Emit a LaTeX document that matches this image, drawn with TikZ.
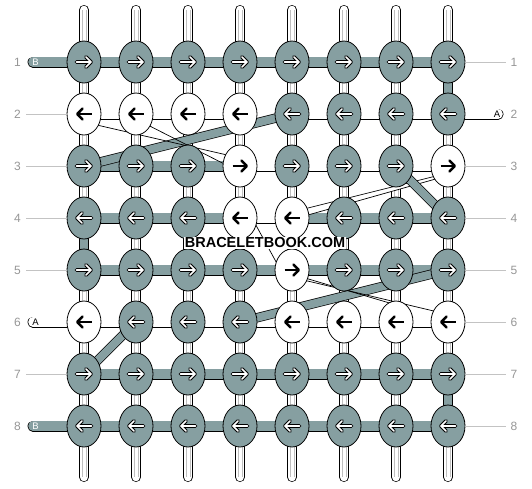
\documentclass[tikz,border=0pt]{standalone}
\usepackage{fontspec}
\setmainfont{Liberation Sans}
\usetikzlibrary{shapes.geometric}
\definecolor{kg}{RGB}{134,159,161}
\definecolor{lbl}{RGB}{150,150,150}
\definecolor{lln}{RGB}{195,195,195}
\definecolor{inl}{RGB}{190,190,190}
\newcommand\knotarrowG[1]{%
 \begin{scope}[shift={(path picture bounding box.center)}]
 \draw[black,line width=3.8pt,line cap=round,line join=round] ({-7.5*#1},0)--({7*#1},0) ({2*#1},-5)--({7*#1},0)--({2*#1},5);
 \draw[white,line width=1.6pt,line cap=round,line join=round] ({-7.5*#1},0)--({7*#1},0) ({2*#1},-5)--({7*#1},0)--({2*#1},5);
 \end{scope}}
\newcommand\knotarrowW[1]{%
 \begin{scope}[shift={(path picture bounding box.center)}]
 \draw[black,line width=2.6pt,line cap=butt,line join=miter] ({-7.5*#1},0)--({6.5*#1},0);
 \draw[black,line width=2.6pt,line cap=round,line join=round] ({1.5*#1},-5.4)--({6.8*#1},0)--({1.5*#1},5.4);
 \end{scope}}
\begin{document}
\begin{tikzpicture}[x=1pt,y=-1pt,
 knot/.style={ellipse,draw=black,line width=0.8pt,minimum width=34pt,minimum height=42pt,inner sep=0pt},
 GR/.style={knot,fill=kg,path picture={\knotarrowG{1}}},
 GL/.style={knot,fill=kg,path picture={\knotarrowG{-1}}},
 WR/.style={knot,fill=white,path picture={\knotarrowW{1}}},
 WL/.style={knot,fill=white,path picture={\knotarrowW{-1}}},
 vth/.style={double=white,double distance=8.6pt,line width=0.7pt,line cap=round},
 vg/.style={double=kg,double distance=8.6pt,line width=0.7pt},
 hbG/.style={double=kg,double distance=9.6pt,line width=0.7pt},
 hbW/.style={double=white,double distance=9.6pt,line width=0.7pt},
 dg/.style={double=kg,double distance=8pt,line width=0.7pt},
 thin/.style={draw=black,line width=0.7pt},
 lab/.style={text=lbl,font=\fontsize{12}{12}\selectfont,inner sep=0pt},
 lline/.style={draw=lln,line width=0.9pt},
 stublab/.style={font=\fontsize{9.5}{9.5}\selectfont,inner sep=0pt}
]
\useasboundingbox (0,0) rectangle (532,488);
% grid coordinates
\foreach \i in {1,...,8}{
 \foreach \j in {1,...,8}{
  \coordinate (c-\i-\j) at ({84+52*(\i-1)},{62+52*(\j-1)});
 }
 \coordinate (t-\i) at ({84+52*(\i-1)},10);
 \coordinate (b-\i) at ({84+52*(\i-1)},477);
}
% vertical threads
\foreach \i in {1,...,8}{
 \draw[vth] (t-\i) -- (b-\i);
 \draw[inl,line width=0.5pt] ([xshift=-2pt]t-\i) -- ([xshift=-2pt]b-\i);
 \draw[inl,line width=0.5pt] ([xshift=2pt]t-\i) -- ([xshift=2pt]b-\i);
}
\draw[vg] (c-8-1) -- (c-8-2);
\draw[vg] (c-1-4) -- (c-1-5);
\draw[vg] (c-8-7) -- (c-8-8);
% horizontal bars
\foreach \j/\lst in {1/{G,G,G,G,G,G,G},2/{W,W,W,W,W,W,W},3/{G,G,G,W,W,W,W},4/{G,G,G,W,G,G,G},5/{G,G,G,G,G,G,G},6/{W,W,W,W,W,W,W},7/{G,G,G,G,G,G,G},8/{G,G,G,G,G,G,G}}{
 \foreach \s [count=\i] in \lst {
  \pgfmathtruncatemacro\ii{\i+1}
  \draw[hb\s] (c-\i-\j) -- (c-\ii-\j);
 }
}
% stubs
\coordinate (sl-1) at (33,62);
\coordinate (sl-6) at (33,322);
\coordinate (sl-8) at (33,426);
\coordinate (sr-2) at (498,114);
\draw[hbG,line cap=round] (sl-1) -- (c-1-1);
\draw[hbW,line cap=round] (sl-6) -- (c-1-6);
\draw[hbG,line cap=round] (sl-8) -- (c-1-8);
\draw[hbW,line cap=round] (sr-2) -- (c-8-2);
\node[stublab,text=white] (tb-1) at (35.5,62.5) {B};
\node[stublab,text=black] (ta-6) at (35.5,322.5) {A};
\node[stublab,text=white] (tb-8) at (35.5,426.5) {B};
\node[stublab,text=black] (ta-2) at (497,114.5) {A};
% diagonal threads (gray)
\draw[dg] (c-5-2) -- (c-1-3);
\draw[dg] (c-4-6) -- (c-8-5);
\draw[dg] (c-2-6) -- (c-1-7);
% diagonal threads (white, thin)
\coordinate (p1a) at (86,122.5);
\coordinate (p1b) at (238,157.5);
\coordinate (p2a) at (138,120);
\coordinate (p2b) at (238,171);
\draw[thin] (p1a) -- (p1b);
\draw[thin] (p2a) -- (p2b);
\coordinate (q1a) at (298,210.5);
\coordinate (q1b) at (442,174.5);
\coordinate (q2b) at (442,177.2);
\coordinate (q2a) at (298,217.8);
\filldraw[fill=white,draw=black,line width=0.7pt] (q1a) -- (q1b) -- (q2b) -- (q2a) -- cycle;
\draw[dg] (c-7-3) -- (c-8-4);
\coordinate (r1a) at (252,218);
\coordinate (r1b) at (280,269);
\draw[thin] (r1a) -- (r1b);
\coordinate (s1a) at (295,278);
\coordinate (s1b) at (440,312.5);
\coordinate (s2a) at (300,276.5);
\coordinate (s2b) at (398,305.5);
\draw[thin] (s1a) -- (s1b);
\draw[thin] (s2a) -- (s2b);
% knots
\foreach \j/\lst in {1/{GR,GR,GR,GR,GR,GR,GR,GR},2/{WL,WL,WL,WL,GL,GL,GL,GL},3/{GR,GR,GR,WR,GR,GR,GR,WR},4/{GL,GL,GL,WL,WL,GL,GL,GL},5/{GR,GR,GR,GR,WR,GR,GR,GR},6/{WL,GL,GL,GL,WL,WL,WL,WL},7/{GR,GR,GR,GR,GR,GR,GR,GR},8/{GL,GL,GL,GL,GL,GL,GL,GL}}{
 \foreach \s [count=\i] in \lst {
  \node[\s] (k-\i-\j) at (c-\i-\j) {};
 }
}
% row labels
\foreach \j in {1,...,8}{
 \node[lab] (nl-\j) at (17.5,{62+52*(\j-1)}) {\j};
 \node[lab] (nr-\j) at (514,{62+52*(\j-1)}) {\j};
}
\foreach \j in {2,3,4,5,7}{
 \coordinate (ll-\j) at (26,{62+52*(\j-1)});
 \draw[lline] (ll-\j) -- (k-1-\j.west);
}
\foreach \j in {1,3,4,5,6,7,8}{
 \coordinate (rl-\j) at (506,{62+52*(\j-1)});
 \draw[lline] (k-8-\j.east) -- (rl-\j);
}
% watermark
\node[text=black,fill=white,font=\bfseries\fontsize{14.5}{14.5}\selectfont,inner xsep=0.8pt,inner ysep=0.6pt] (wm) at (265,243) {BRACELETBOOK.COM};
\end{tikzpicture}
\end{document}
